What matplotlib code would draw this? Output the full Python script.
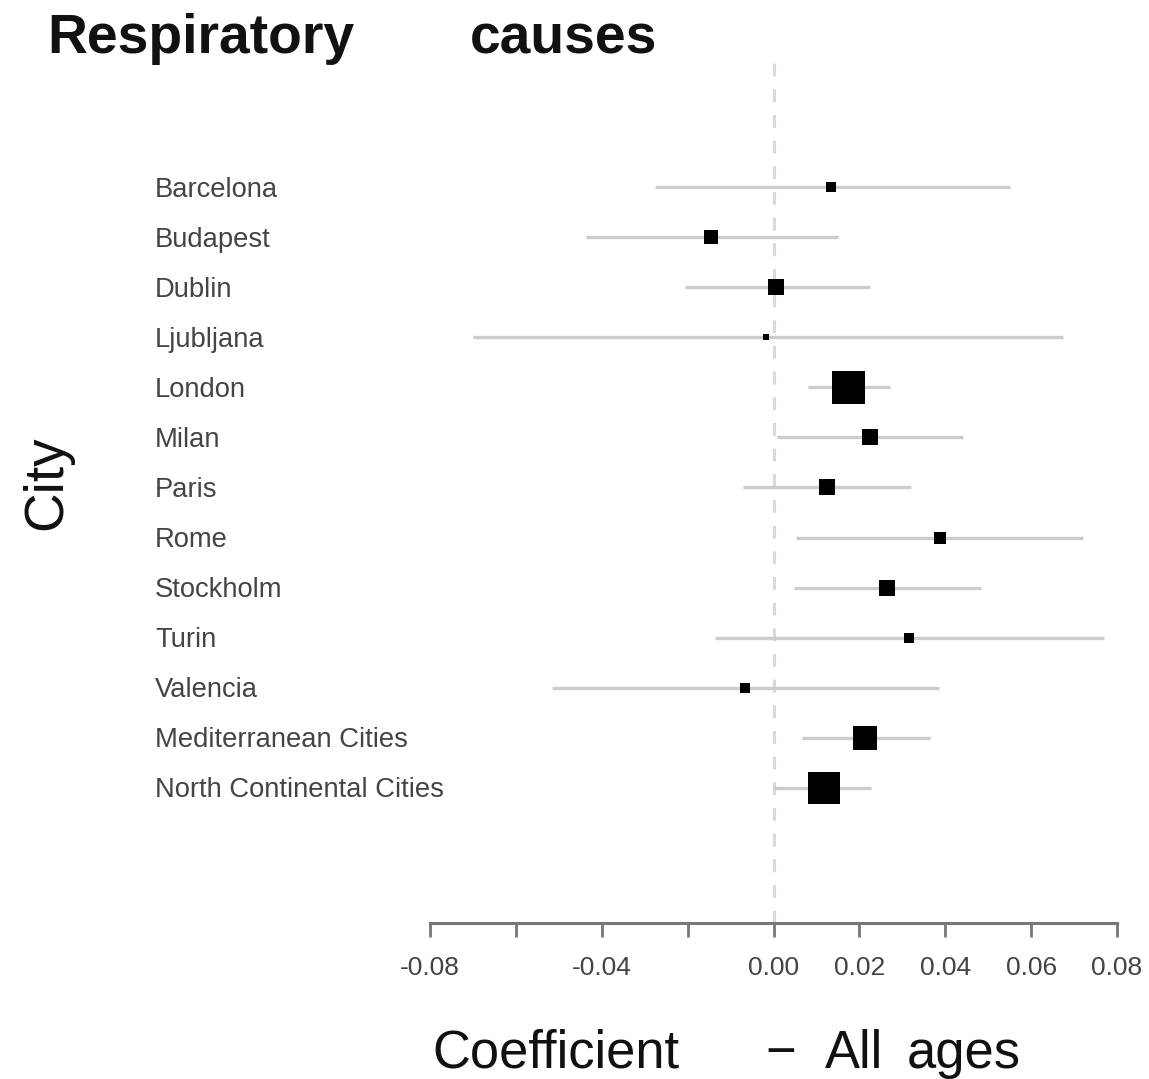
import matplotlib
matplotlib.use("Agg")
import matplotlib.pyplot as plt
import matplotlib.transforms as mtransforms

# ---- data ----
cities = ["Barcelona", "Budapest", "Dublin", "Ljubljana", "London", "Milan",
          "Paris", "Rome", "Stockholm", "Turin", "Valencia",
          "Mediterranean Cities", "North Continental Cities"]
coef = [0.0135, -0.0146, 0.0006, -0.0017, 0.0173, 0.0224,
        0.0124, 0.0387, 0.0265, 0.0316, -0.0067, 0.0214, 0.0117]
ci_low = [-0.0275, -0.0436, -0.0207, -0.0700, 0.0081, 0.0008,
          -0.0072, 0.0052, 0.0048, -0.0136, -0.0516, 0.0066, 0.0001]
ci_high = [0.0550, 0.0150, 0.0224, 0.0675, 0.0272, 0.0441,
           0.0321, 0.0720, 0.0483, 0.0769, 0.0386, 0.0365, 0.0226]
# relative weight (box scale, London = 1)
weight = [0.30, 0.40, 0.50, 0.21, 1.00, 0.47,
          0.50, 0.34, 0.50, 0.30, 0.30, 0.72, 0.96]
xticks = [-0.08, -0.06, -0.04, -0.02, 0.00, 0.02, 0.04, 0.06, 0.08]
xticklabels = ["-0.08", "", "-0.04", "", "0.00", "0.02", "0.04", "0.06", "0.08"]

W, H = 1149, 1079
DPI = 100
plt.rcParams['font.family'] = ['Liberation Sans', 'DejaVu Sans']

fig = plt.figure(figsize=(W / DPI, H / DPI), dpi=DPI)

def fx(px):
    return px / W

def fy(py):
    return 1 - py / H

left, right, top, bottom = 430, 1117, 55, 923
ax = fig.add_axes([fx(left), fy(bottom), fx(right) - fx(left), (bottom - top) / H])

n = len(cities)
ypos = [n - i for i in range(n)]

ax.set_xlim(-0.08, 0.08)
ax.set_ylim(-1.696, 15.636)

ax.axvline(0, color="#d9d9d9", lw=2.2, linestyle=(0, (4.2, 4.2)), zorder=1)

for y, c, lo, hi, w in zip(ypos, coef, ci_low, ci_high, weight):
    ax.plot([lo, hi], [y, y], color="#cccccc", lw=2.4, solid_capstyle="butt", zorder=2)
    ax.plot([c], [y], marker="s", color="black", markersize=33 * w * 72 / DPI,
            markeredgewidth=0, zorder=3)

for s in ["top", "right", "left"]:
    ax.spines[s].set_visible(False)
ax.spines["bottom"].set_color("#777777")
ax.spines["bottom"].set_linewidth(2.2)
ax.spines["bottom"].set_bounds(-0.08, 0.08)
ax.set_yticks([])
ax.set_xticks(xticks)
ax.set_xticklabels(xticklabels, fontsize=19, color="#444444")
ax.tick_params(axis="x", direction="out", length=10, width=2, color="#777777", pad=14)
ax.patch.set_alpha(0)

trans = mtransforms.blended_transform_factory(fig.transFigure, ax.transData)
for y, name in zip(ypos, cities):
    ax.text(fx(155), y - 0.05, name, transform=trans, ha="left", va="center",
            fontsize=19.7, color="#444444")

# title
fig.text(fx(47), fy(53), "Respiratory", fontsize=39.8, fontweight="bold",
         ha="left", va="baseline", color="#111111")
fig.text(fx(470), fy(53), "causes", fontsize=39.8, fontweight="bold",
         ha="left", va="baseline", color="#111111")

# x label
xl_kw = dict(fontsize=37.8, ha="left", va="baseline", color="#111111")
fig.text(fx(432), fy(1068), "Coefficient", **xl_kw)
fig.text(fx(765), fy(1068), "\u2212", **xl_kw)
fig.text(fx(825), fy(1068), "All", **xl_kw)
fig.text(fx(907), fy(1068), "ages", **xl_kw)

# y label
fig.text(fx(47), fy(483), "City", fontsize=39.5, rotation=90,
         ha="center", va="center", color="#111111")

fig.savefig("out.png", dpi=DPI)
